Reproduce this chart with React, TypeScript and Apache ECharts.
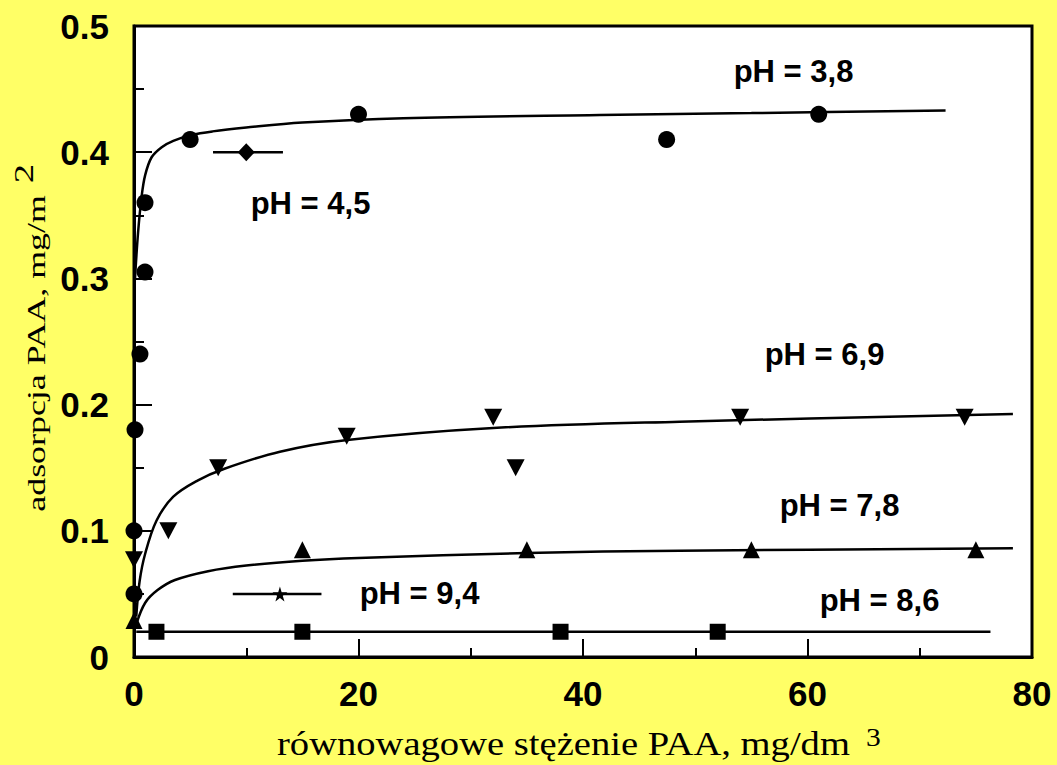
import React, { useEffect, useRef } from "react";
import * as echarts from "echarts";

// ---- data ----
// pH = 3,8 (circles)
const ph38X = [0, 0, 0.09, 0.53, 0.98, 0.98, 5.0, 20.0, 47.45, 61.0];
const ph38Y = [0.05, 0.1, 0.18, 0.24, 0.305, 0.36, 0.41, 0.43, 0.41, 0.43];
const fit38X = [0.09, 0.36, 0.68, 1.0, 1.57, 2.47, 3.5, 5.1, 7.0, 10.0, 15.0, 24.0, 41.5, 55, 72.3];
const fit38Y = [0.3, 0.336, 0.365, 0.382, 0.396, 0.404, 0.409, 0.4136, 0.4165, 0.4195, 0.4235, 0.427, 0.4295, 0.431, 0.433];
// pH = 4,5 (diamond with horizontal bar)
const ph45X = [10.0];
const ph45Y = [0.4];
const ph45Bar = [7.04, 13.27];
// pH = 6,9 (inverted triangles)
const ph69X = [0, 3.06, 7.5, 18.95, 32.0, 34.0, 54.0, 74.0];
const ph69Y = [0.077, 0.1, 0.15, 0.175, 0.19, 0.15, 0.19, 0.19];
const fit69X = [0.2, 0.5, 1.0, 2.0, 3.5, 5.7, 8.0, 13.0, 19.0, 32.0, 48.6, 78.3];
const fit69Y = [0.032, 0.06, 0.082, 0.108, 0.127, 0.14, 0.149, 0.1627, 0.172, 0.1815, 0.1865, 0.1925];
// pH = 7,8 (triangles)
const ph78X = [0, 15, 35, 55, 75];
const ph78Y = [0.029, 0.085, 0.085, 0.085, 0.085];
const fit78X = [0.24, 1.0, 2.1, 3.65, 6.6, 10.0, 15.0, 20.0, 35.0, 48.6, 78.3];
const fit78Y = [0.027, 0.043, 0.053, 0.061, 0.068, 0.0725, 0.0763, 0.0785, 0.0824, 0.0842, 0.0861];
// pH = 8,6 (squares)
const ph86X = [2.0, 15.0, 38.0, 52.0];
const ph86Y = [0.02, 0.02, 0.02, 0.02];
const fit86X = [0.2, 76.3];
const fit86Y = [0.02, 0.02];
// pH = 9,4 (star with horizontal bar)
const ph94X = [13.0];
const ph94Y = [0.05];
const ph94Bar = [8.8, 16.7];

// annotation labels
const phLabels = ["pH = 3,8", "pH = 4,5", "pH = 6,9", "pH = 7,8", "pH = 8,6", "pH = 9,4"];
const phLabelX = [58.8, 15.77, 61.56, 62.9, 66.46, 25.48];
const phLabelY = [0.4636, 0.3586, 0.2393, 0.1197, 0.0444, 0.0499];

// axes
const xMin = 0, xMax = 80, xStep = 20;
const yMin = 0, yMax = 0.5, yStep = 0.1;
const xTitleMain = "równowagowe stężenie PAA, mg/dm";
const xTitleSup = "3";
const yTitleMain = "adsorpcja PAA, mg/m";
const yTitleSup = "2";

const zip = (xs: number[], ys: number[]) => xs.map((x, i) => [x, ys[i]]);

const STAR = "path://M50,0 L61,35 L98,35 L68,57 L79,91 L50,70 L21,91 L32,57 L2,35 L39,35 Z";

export default function App() {
  const ref = useRef<HTMLDivElement>(null);
  useEffect(() => {
    document.body.style.margin = "0";
    const chart = echarts.init(ref.current!, undefined, { renderer: "svg" });
    const tickFont = { fontFamily: "Liberation Sans", fontWeight: "bold" as const, fontSize: 35, color: "#000" };
    const curve = (xs: number[], ys: number[]) => ({
      type: "line",
      data: zip(xs, ys),
      showSymbol: false,
      smooth: 0.35,
      lineStyle: { color: "#000", width: 2.5 },
      z: 2,
      silent: true,
    });
    const marks = (xs: number[], ys: number[], symbol: string, size: any, rotate = 0) => ({
      type: "scatter",
      data: zip(xs, ys),
      symbol,
      symbolSize: size,
      symbolRotate: rotate,
      itemStyle: { color: "#000", opacity: 1 },
      clip: false,
      z: 3,
      silent: true,
    });
    chart.setOption({
      animation: false,
      backgroundColor: "#ffff66",
      grid: {
        left: 134,
        right: 25,
        top: 26,
        bottom: 108,
        show: true,
        backgroundColor: "#ffffff",
        borderColor: "#000",
        borderWidth: 3,
        containLabel: false,
        outerBoundsMode: "none",
      },
      xAxis: {
        type: "value",
        min: xMin,
        max: xMax,
        interval: xStep,
        axisLine: { show: true, lineStyle: { color: "#000", width: 3 } },
        axisTick: { show: true, inside: true, length: 18, lineStyle: { color: "#000", width: 2 } },
        minorTick: { show: true, splitNumber: 2, length: 9, lineStyle: { color: "#000", width: 2 } },
        splitLine: { show: false },
        axisLabel: { ...tickFont, margin: 19 },
      },
      yAxis: {
        type: "value",
        min: yMin,
        max: yMax,
        interval: yStep,
        axisLine: { show: true, lineStyle: { color: "#000", width: 3 } },
        axisTick: { show: true, inside: true, length: 18, lineStyle: { color: "#000", width: 2 } },
        minorTick: { show: true, splitNumber: 2, length: 10, lineStyle: { color: "#000", width: 2 } },
        splitLine: { show: false },
        axisLabel: {
          ...tickFont,
          margin: 25,
          formatter: (v: number) => (v === 0 ? "0" : v.toFixed(1)),
        },
      },
      graphic: [
        {
          type: "group",
          x: 277,
          y: 743.5,
          scaleX: 1.135,
          children: [
            {
              type: "text",
              x: 0,
              y: 0,
              style: { text: xTitleMain, fontFamily: "Liberation Serif", fontSize: 34, fill: "#000", align: "left", verticalAlign: "middle" },
            },
            {
              type: "text",
              x: 519,
              y: -6,
              style: { text: xTitleSup, fontFamily: "Liberation Serif", fontSize: 26, fill: "#000", align: "left", verticalAlign: "middle" },
            },
          ],
        },
        {
          type: "group",
          x: 36.2,
          y: 511.7,
          rotation: Math.PI / 2,
          scaleX: 1.38,
          children: [
            {
              type: "text",
              x: 0,
              y: 0,
              style: { text: yTitleMain, fontFamily: "Liberation Serif", fontSize: 26, fill: "#000", align: "left", verticalAlign: "middle" },
            },
            {
              type: "text",
              x: 238,
              y: -12.6,
              style: { text: yTitleSup, fontFamily: "Liberation Serif", fontSize: 28, fill: "#000", align: "left", verticalAlign: "middle" },
            },
          ],
        },
      ],
      series: [
        curve(fit38X, fit38Y),
        curve(fit69X, fit69Y),
        curve(fit78X, fit78Y),
        curve(fit86X, fit86Y),
        curve(ph45Bar, [ph45Y[0], ph45Y[0]]),
        curve(ph94Bar, [ph94Y[0], ph94Y[0]]),
        marks(ph38X, ph38Y, "circle", 17),
        marks(ph45X, ph45Y, "diamond", [17, 18]),
        marks(ph69X, ph69Y, "triangle", [18, 17], 180),
        marks(ph78X, ph78Y, "triangle", [17, 17]),
        marks(ph86X, ph86Y, "rect", 16),
        marks(ph94X, ph94Y, STAR, 15),
        {
          type: "scatter",
          data: phLabelX.map((x, i) => [x, phLabelY[i], phLabels[i]]),
          symbolSize: 1,
          itemStyle: { color: "transparent", opacity: 1 },
          silent: true,
          z: 4,
          label: {
            show: true,
            position: [0, 0],
            align: "center",
            verticalAlign: "middle",
            formatter: (p: any) => p.data[2],
            fontFamily: "Liberation Sans",
            fontWeight: "bold",
            fontSize: 31,
            color: "#000",
            opacity: 1,
            textBorderWidth: 0,
          },
        },
      ],
    });
    return () => chart.dispose();
  }, []);
  return <div ref={ref} style={{ width: 1057, height: 765 }} />;
}
